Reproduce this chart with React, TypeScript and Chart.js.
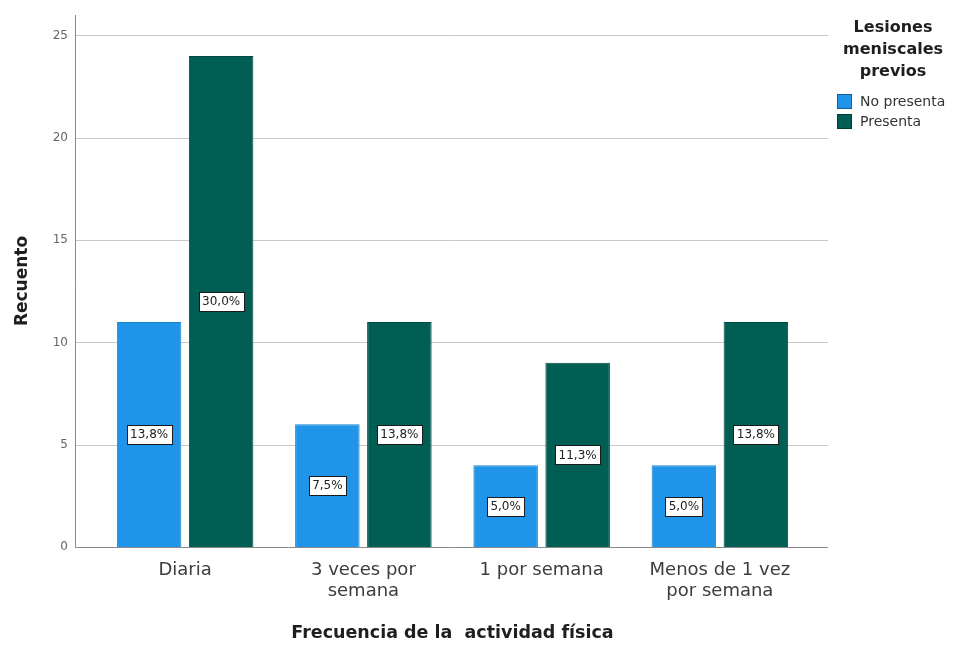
import React, { useEffect, useRef } from "react";
import { Chart, registerables } from "chart.js";

Chart.register(...registerables);

// Activity frequency categories (multi-line tick labels)
const categories: string[][] = [
  ["Diaria"],
  ["3 veces por", "semana"],
  ["1 por semana"],
  ["Menos de 1 vez", "por semana"],
];
const seriesNames = ["No presenta", "Presenta"];
const noPresenta = [11, 6, 4, 4];
const presenta = [24, 11, 9, 11];
const yTickValues = [0, 5, 10, 15, 20, 25];
const yMax = 26;
const legendTitle = ["Lesiones", "meniscales", "previos"];
const xTitle = "Frecuencia de la  actividad física";
const yTitle = "Recuento";

const COLOR_NO = "#1f94e8";
const COLOR_SI = "#015e55";
const FONT = "'DejaVu Sans', 'Liberation Sans', Arial, sans-serif";

const total = [...noPresenta, ...presenta].reduce((a, b) => a + b, 0);
const pctLabel = (v: number) => ((v / total) * 100).toFixed(1).replace(".", ",") + "%";

// Axis lines and gridlines that run a little past the plot area on both sides
const framePlugin = {
  id: "frame",
  beforeDatasetsDraw(chart: any) {
    const { ctx, chartArea, scales } = chart;
    const y = scales.y;
    const left = chartArea.left - 21;
    const right = chartArea.right + 19;
    ctx.save();
    ctx.lineWidth = 1;
    ctx.strokeStyle = "#c8c8c8";
    yTickValues.forEach((v) => {
      if (v === 0) return;
      const py = Math.round(y.getPixelForValue(v)) + 0.5;
      ctx.beginPath();
      ctx.moveTo(left, py);
      ctx.lineTo(right, py);
      ctx.stroke();
    });
    ctx.strokeStyle = "#8a8a8a";
    const base = Math.round(y.getPixelForValue(0)) + 0.5;
    ctx.beginPath();
    ctx.moveTo(left + 0.5, chartArea.top);
    ctx.lineTo(left + 0.5, base);
    ctx.lineTo(right, base);
    ctx.stroke();
    ctx.restore();
  },
};

// Percentage boxes centred on each bar
const barLabelPlugin = {
  id: "barLabels",
  afterDatasetsDraw(chart: any) {
    const { ctx } = chart;
    ctx.save();
    ctx.font = `12px ${FONT}`;
    ctx.textAlign = "center";
    ctx.textBaseline = "middle";
    chart.data.datasets.forEach((ds: any, di: number) => {
      const meta = chart.getDatasetMeta(di);
      meta.data.forEach((el: any, i: number) => {
        const { x, y, base } = el.getProps(["x", "y", "base"], true);
        const cy = (y + base) / 2;
        const text = pctLabel(ds.data[i]);
        const w = Math.ceil(ctx.measureText(text).width) + 6;
        const h = 19;
        const bx = Math.round(x - w / 2) + 0.5;
        const by = Math.round(cy - h / 2) + 0.5;
        ctx.fillStyle = "#ffffff";
        ctx.fillRect(bx, by, w, h);
        ctx.strokeStyle = "#1a1a1a";
        ctx.lineWidth = 1;
        ctx.strokeRect(bx, by, w, h);
        ctx.fillStyle = "#222222";
        ctx.fillText(text, x, cy + 0.5);
      });
    });
    ctx.restore();
  },
};

// Legend with a three-line bold title on the right
const legendPlugin = {
  id: "sideLegend",
  afterDraw(chart: any) {
    const { ctx } = chart;
    ctx.save();
    ctx.fillStyle = "#1e1e1e";
    ctx.font = `bold 16px ${FONT}`;
    ctx.textAlign = "center";
    ctx.textBaseline = "middle";
    legendTitle.forEach((line, i) => ctx.fillText(line, 893, 28 + i * 22));
    ctx.textAlign = "left";
    ctx.font = `14px ${FONT}`;
    chart.data.datasets.forEach((ds: any, i: number) => {
      const top = 94 + i * 20;
      ctx.fillStyle = ds.backgroundColor;
      ctx.fillRect(837, top, 15, 15);
      ctx.strokeStyle = "rgba(0,0,0,0.35)";
      ctx.lineWidth = 1;
      ctx.strokeRect(837.5, top + 0.5, 14, 14);
      ctx.fillStyle = "#333333";
      ctx.fillText(ds.label, 860, top + 8);
    });
    ctx.restore();
  },
};

export default function App() {
  const canvasRef = useRef<HTMLCanvasElement | null>(null);

  useEffect(() => {
    if (!canvasRef.current) return;
    const chart = new Chart(canvasRef.current, {
      type: "bar",
      data: {
        labels: categories,
        datasets: [
          {
            label: seriesNames[0],
            data: noPresenta,
            backgroundColor: COLOR_NO,
            borderColor: "#1a84d0",
            borderWidth: 1,
            categoryPercentage: 0.808,
            barPercentage: 0.896,
          },
          {
            label: seriesNames[1],
            data: presenta,
            backgroundColor: COLOR_SI,
            borderColor: "#004a42",
            borderWidth: 1,
            categoryPercentage: 0.808,
            barPercentage: 0.896,
          },
        ],
      },
      options: {
        responsive: false,
        animation: false,
        devicePixelRatio: 1,
        layout: { padding: { top: 15, right: 149, left: 0, bottom: 0 } },
        plugins: {
          legend: { display: false },
          tooltip: { enabled: false },
        },
        scales: {
          x: {
            grid: { display: false, drawTicks: false },
            border: { display: false },
            ticks: {
              color: "#3c3c3c",
              font: { family: FONT, size: 18, lineHeight: 1.15 },
              padding: 13,
              maxRotation: 0,
              autoSkip: false,
            },
            title: {
              display: true,
              text: xTitle,
              color: "#1e1e1e",
              font: { family: FONT, size: 17.5, weight: "bold" },
              padding: { top: 0, bottom: 9 },
            },
            afterFit: (s: any) => {
              s.height = 106;
            },
          },
          y: {
            min: 0,
            max: yMax,
            grid: { display: false, drawTicks: false },
            border: { display: false },
            afterBuildTicks: (s: any) => {
              s.ticks = yTickValues.map((v) => ({ value: v }));
            },
            ticks: {
              color: "#666666",
              font: { family: FONT, size: 12 },
              padding: 28,
            },
            title: {
              display: true,
              text: yTitle,
              color: "#1e1e1e",
              font: { family: FONT, size: 17, weight: "bold" },
              padding: { top: 12, bottom: 0 },
            },
            afterFit: (s: any) => {
              s.width = 96;
              s.paddingTop = 0;
              s.paddingBottom = 0;
            },
          },
        },
      },
      plugins: [framePlugin, barLabelPlugin, legendPlugin],
    });
    return () => chart.destroy();
  }, []);

  return (
    <div style={{ position: "absolute", left: 0, top: 0, width: 958, height: 653, background: "#ffffff" }}>
      <canvas ref={canvasRef} width={958} height={653} />
    </div>
  );
}
